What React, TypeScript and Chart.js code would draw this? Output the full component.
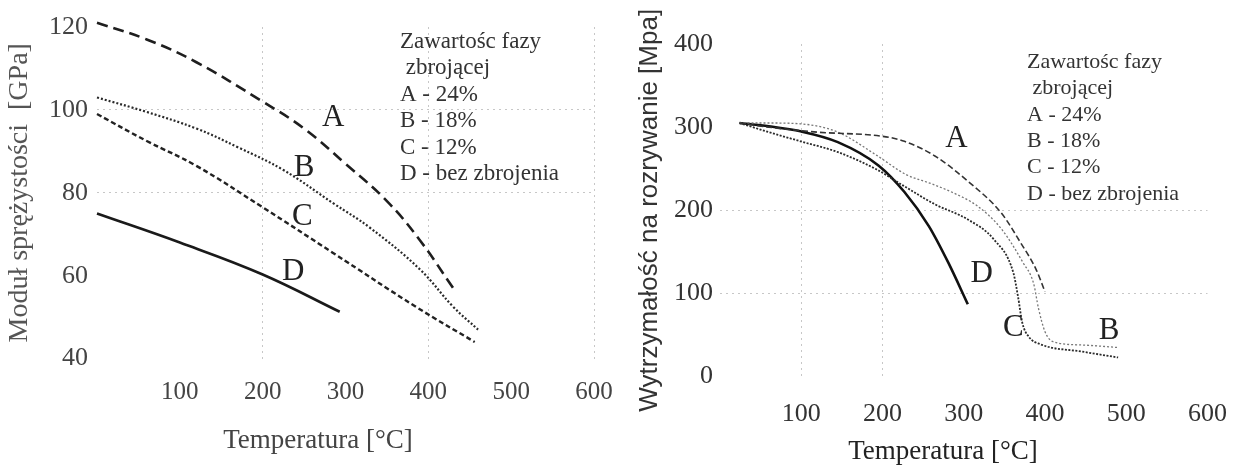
import { useEffect, useRef } from "react";
import { Chart, registerables } from "chart.js";

Chart.register(...registerables);

// ---------- Left chart: Moduł sprężystości ----------
const leftXTicks = [100, 200, 300, 400, 500, 600];
const leftYTicks = [40, 60, 80, 100, 120];
const leftGridX = [200, 400, 600];
const leftGridY = [80, 100];

const leftA_T = [0, 60, 120, 200, 250, 300, 350, 390, 430];
const leftA_V = [121, 117, 111.5, 102, 95.5, 87, 78, 68.5, 57];
const leftB_T = [0, 60, 120, 170, 225, 285, 330, 390, 430, 460];
const leftB_V = [103, 99.5, 95.5, 91, 85.5, 77.5, 71.5, 61.5, 52.5, 47];
const leftC_T = [0, 60, 120, 200, 285, 385, 456];
const leftC_V = [99, 92.5, 86.5, 76.5, 65.5, 52.5, 44];
const leftD_T = [0, 100, 200, 293];
const leftD_V = [75, 68, 60.3, 51.3];

const leftLetters = ["A", "B", "C", "D"];
const leftLetterT = [285, 250, 248, 237];
const leftLetterV = [98, 86, 74.2, 61];

// ---------- Right chart: Wytrzymałość na rozrywanie ----------
const rightXTicks = [100, 200, 300, 400, 500, 600];
const rightYTicks = [0, 100, 200, 300, 400];
const rightGridX = [100, 200];
const rightGridY = [100, 200];

const rightA_T = [24, 60, 120, 200, 227, 265, 305, 346, 370, 389, 400];
const rightA_V = [305, 300, 294, 289, 283, 265, 235, 197, 161, 129, 102];
const rightB_T = [24, 60, 99, 145, 193, 229, 260, 285, 317, 346, 373, 386, 392, 400, 410, 446, 490];
const rightB_V = [305, 305, 304, 294, 266, 243, 232, 222, 205, 178, 137, 112, 82, 54, 42, 38, 35];
const rightC_T = [24, 60, 99, 145, 193, 225, 265, 305, 337, 361, 367, 372, 380, 394, 446, 490];
const rightC_V = [305, 294, 283, 270, 249, 230, 207, 189, 165, 125, 95, 65, 48, 39, 30, 23];
const rightD_T = [24, 60, 99, 145, 195, 227, 257, 281, 305];
const rightD_V = [305, 301, 295, 282, 254, 222, 181, 137, 87];

const rightLetters = ["A", "D", "C", "B"];
const rightLetterT = [291, 322, 361, 479];
const rightLetterV = [286, 123, 59, 55];

const legendLines = ["Zawartośc fazy", " zbrojącej", "A - 24%", "B - 18%", "C - 12%", "D - bez zbrojenia"];

const SERIF = "'Liberation Serif', 'Times New Roman', serif";
const SANS = "'Liberation Sans', Arial, sans-serif";

const zip = (t: number[], v: number[]) => t.map((x, i) => ({ x, y: v[i] }));

const notesPlugin = {
  id: "notes",
  afterDatasetsDraw(chart: any, _args: any, opts: any) {
    const { ctx, scales } = chart;
    const xs = scales.x;
    const ys = scales.y;
    ctx.save();
    ctx.fillStyle = "#222";
    ctx.textAlign = "center";
    ctx.textBaseline = "middle";
    ctx.font = `${opts.letterSize}px ${SERIF}`;
    opts.letters.forEach((l: string, i: number) => {
      ctx.fillText(l, xs.getPixelForValue(opts.letterT[i]), ys.getPixelForValue(opts.letterV[i]));
    });
    ctx.textAlign = "left";
    ctx.fillStyle = "#333";
    ctx.font = `${opts.legendSize}px ${SERIF}`;
    opts.lines.forEach((line: string, i: number) => {
      ctx.fillText(line, opts.legendX, opts.legendY + i * opts.legendStep);
    });
    ctx.restore();
  },
};

function gridColor(list: number[]) {
  return (c: any) => (c.tick && list.includes(c.tick.value) ? "rgba(0,0,0,0.22)" : "rgba(0,0,0,0)");
}

function makeLeft(canvas: HTMLCanvasElement) {
  return new Chart(canvas, {
    type: "line",
    data: {
      datasets: [
        { label: "A", data: zip(leftA_T, leftA_V), borderColor: "#1e1e1e", borderWidth: 2.6, borderDash: [11, 6] },
        { label: "B", data: zip(leftB_T, leftB_V), borderColor: "#2a2a2a", borderWidth: 2.2, borderDash: [2, 2] },
        { label: "C", data: zip(leftC_T, leftC_V), borderColor: "#222", borderWidth: 2.4, borderDash: [5, 3] },
        { label: "D", data: zip(leftD_T, leftD_V), borderColor: "#1a1a1a", borderWidth: 2.6 },
      ].map((d) => ({ ...d, pointRadius: 0, tension: 0.4, clip: false as any, fill: false })),
    },
    options: {
      responsive: false,
      animation: false,
      layout: { padding: { left: 42, top: 27, right: 42, bottom: 0 } },
      plugins: {
        legend: { display: false },
        tooltip: { enabled: false },
        title: {
          display: true,
          position: "bottom",
          text: "Temperatura [°C]",
          color: "#444",
          font: { family: SERIF, size: 27, weight: "normal" },
          padding: { top: 16, bottom: 13 },
        },
        notes: {
          letters: leftLetters, letterT: leftLetterT, letterV: leftLetterV, letterSize: 31,
          lines: legendLines, legendX: 400, legendY: 42, legendStep: 26.4, legendSize: 23,
        },
      } as any,
      scales: {
        x: {
          type: "linear",
          min: 0,
          max: 600,
          afterBuildTicks: (s: any) => { s.ticks = leftXTicks.map((value) => ({ value })); },
          afterFit: (s: any) => { s.height = 50; },
          ticks: { color: "#444", padding: 19, font: { family: SERIF, size: 25 } },
          grid: { drawTicks: false, color: gridColor(leftGridX), lineWidth: 1 },
          border: { display: false, dash: [2, 4] },
        },
        y: {
          type: "linear",
          min: 40,
          max: 120,
          afterBuildTicks: (s: any) => { s.ticks = leftYTicks.map((value) => ({ value })); },
          afterFit: (s: any) => { s.width = 55; },
          ticks: { color: "#444", padding: 9, font: { family: SERIF, size: 26 } },
          grid: { drawTicks: false, color: gridColor(leftGridY), lineWidth: 1 },
          border: { display: false, dash: [2, 4] },
          title: {
            display: true,
            text: "Moduł sprężystości  [GPa]",
            color: "#555",
            font: { family: SERIF, size: 28 },
            padding: { top: -39, bottom: 0 },
          },
        },
      },
    },
    plugins: [notesPlugin],
  });
}

function makeRight(canvas: HTMLCanvasElement) {
  return new Chart(canvas, {
    type: "line",
    data: {
      datasets: [
        { label: "A", data: zip(rightA_T, rightA_V), borderColor: "#333", borderWidth: 1.6, borderDash: [6, 3] },
        { label: "B", data: zip(rightB_T, rightB_V), borderColor: "#777", borderWidth: 1.3, borderDash: [2, 2] },
        { label: "C", data: zip(rightC_T, rightC_V), borderColor: "#2a2a2a", borderWidth: 1.8, borderDash: [2, 1.5] },
        { label: "D", data: zip(rightD_T, rightD_V), borderColor: "#111", borderWidth: 2.6 },
      ].map((d) => ({ ...d, pointRadius: 0, cubicInterpolationMode: "monotone" as const, clip: false as any, fill: false })),
    },
    options: {
      responsive: false,
      animation: false,
      layout: { padding: { left: 32, top: 44, right: 31, bottom: 0 } },
      plugins: {
        legend: { display: false },
        tooltip: { enabled: false },
        title: {
          display: true,
          position: "bottom",
          text: "Temperatura [°C]",
          color: "#222",
          font: { family: SERIF, size: 27, weight: "normal" },
          padding: { top: 4, bottom: 2 },
        },
        notes: {
          letters: rightLetters, letterT: rightLetterT, letterV: rightLetterV, letterSize: 31,
          lines: legendLines, legendX: 391, legendY: 62, legendStep: 26.4, legendSize: 22,
        },
      } as any,
      scales: {
        x: {
          type: "linear",
          min: 0,
          max: 600,
          afterBuildTicks: (s: any) => { s.ticks = rightXTicks.map((value) => ({ value })); },
          afterFit: (s: any) => { s.height = 55; },
          ticks: { color: "#333", padding: 22, font: { family: SERIF, size: 26 } },
          grid: { drawTicks: false, color: gridColor(rightGridX), lineWidth: 1 },
          border: { display: false, dash: [2, 4] },
        },
        y: {
          type: "linear",
          min: 0,
          max: 400,
          afterBuildTicks: (s: any) => { s.ticks = rightYTicks.map((value) => ({ value })); },
          afterFit: (s: any) => { s.width = 52; },
          ticks: { color: "#333", padding: 7, font: { family: SERIF, size: 26 } },
          grid: { drawTicks: false, color: gridColor(rightGridY), lineWidth: 1 },
          border: { display: false, dash: [2, 4] },
          title: {
            display: true,
            text: "Wytrzymałość na rozrywanie [Mpa]",
            color: "#333",
            font: { family: SANS, size: 26 },
            padding: { top: -34, bottom: 0 },
          },
        },
      },
    },
    plugins: [notesPlugin],
  });
}

export default function App() {
  const leftRef = useRef<HTMLCanvasElement>(null);
  const rightRef = useRef<HTMLCanvasElement>(null);

  useEffect(() => {
    const l = makeLeft(leftRef.current!);
    const r = makeRight(rightRef.current!);
    return () => {
      l.destroy();
      r.destroy();
    };
  }, []);

  return (
    <div style={{ position: "absolute", left: 0, top: 0, width: 1249, height: 470, background: "#fff", overflow: "hidden" }}>
      <canvas ref={leftRef} width={636} height={470} style={{ position: "absolute", left: 0, top: 0, width: 636, height: 470 }} />
      <canvas ref={rightRef} width={613} height={470} style={{ position: "absolute", left: 636, top: 0, width: 613, height: 470 }} />
    </div>
  );
}
